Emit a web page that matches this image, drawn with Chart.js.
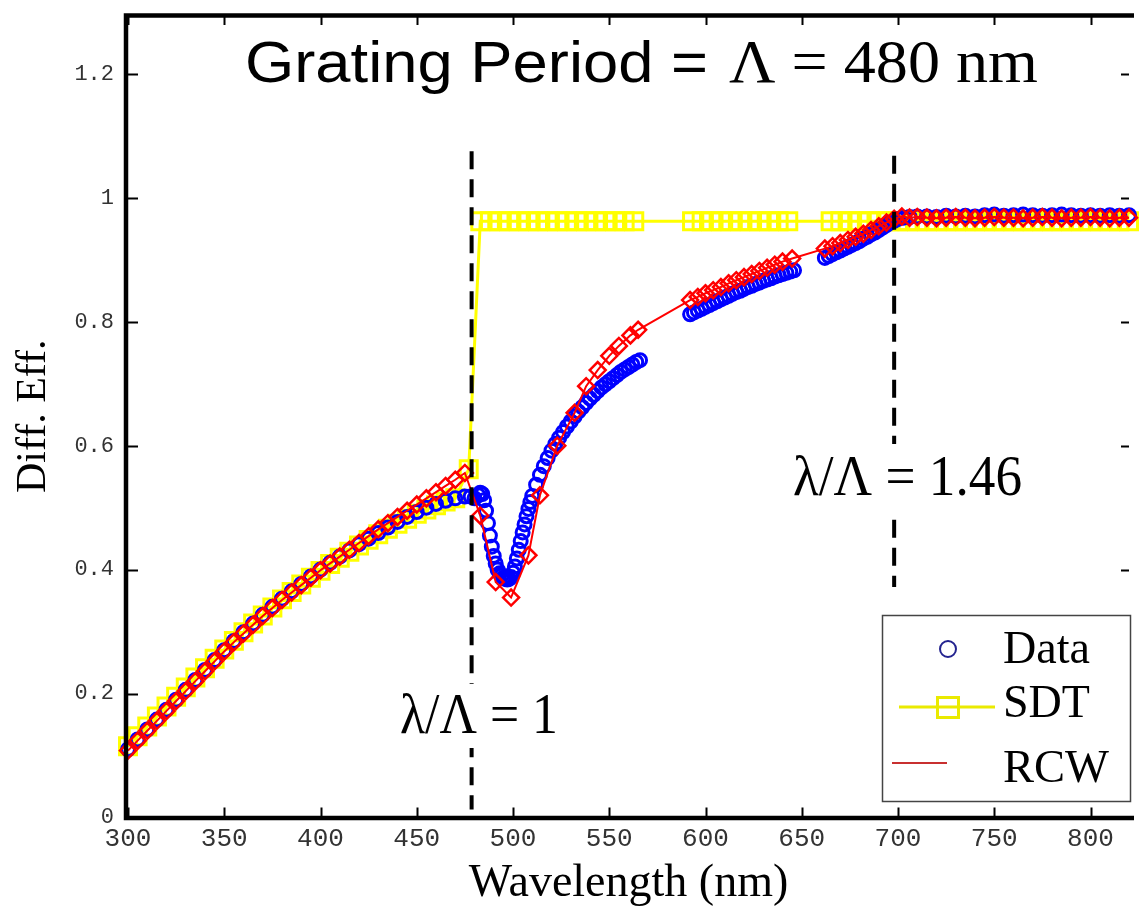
<!DOCTYPE html>
<html>
<head>
<meta charset="utf-8">
<script src="https://cdn.jsdelivr.net/npm/chart.js@4.4.1/dist/chart.umd.min.js"></script>
<style>
  html, body { margin: 0; padding: 0; background: #fff; }
  #wrap { width: 1144px; height: 912px; }
</style>
</head>
<body>
<div id="wrap"><canvas id="c" width="1144" height="912"></canvas></div>
<script>
// ---------------- DATA ----------------
const xTicks = [300, 350, 400, 450, 500, 550, 600, 650, 700, 750, 800];
const xTickLabels = ['300', '350', '400', '450', '500', '550', '600', '650', '700', '750', '800'];
const yTicks = [0, 0.2, 0.4, 0.6, 0.8, 1, 1.2];
const yTickLabels = ['0', '0.2', '0.4', '0.6', '0.8', '1', '1.2'];

// Measured data (blue circles)
const dataWl = [
  300,305,310,315,320,325,330,335,340,345,350,355,360,365,370,375,380,385,390,395,
  400,405,410,415,420,425,430,435,440,445,450,455,460,465,470,475,478,480,482,483,
  484,485,486,487,488,489,490,491,492,493,494,495,496,497,498,499,500,501,502,503,
  504,505,506,507,508,509,510,512,514,516,518,520,522,524,526,528,530,532,534,536,
  538,540,542,544,546,548,550,552,554,556,558,560,562,564,566,
  592,594,596,598,600,602,604,606,608,610,612,614,616,618,620,622,624,626,628,630,
  632,634,636,638,640,642,644,646,
  662,664,666,668,670,672,674,676,678,680,682,684,686,688,690,692,694,696,698,700,
  703,706,710,715,720,725,730,735,740,745,750,755,760,765,770,775,780,785,790,795,
  800,805,810,815,820
];
const dataEff = [
  0.110,0.126,0.142,0.158,0.174,0.190,0.206,0.222,0.238,0.254,0.270,0.285,0.299,0.313,0.327,0.340,0.353,0.365,0.377,0.389,
  0.400,0.411,0.421,0.431,0.441,0.450,0.459,0.468,0.477,0.485,0.493,0.500,0.506,0.511,0.515,0.518,0.518,0.515,0.520,0.524,
  0.522,0.512,0.495,0.475,0.455,0.437,0.422,0.410,0.400,0.394,0.390,0.387,0.385,0.384,0.385,0.388,0.395,0.405,0.418,0.432,
  0.446,0.460,0.473,0.486,0.498,0.509,0.519,0.537,0.553,0.567,0.580,0.592,0.603,0.613,0.622,0.631,0.639,0.647,0.655,0.662,
  0.669,0.676,0.682,0.688,0.694,0.699,0.704,0.709,0.714,0.719,0.723,0.727,0.731,0.735,0.738,
  0.812,0.815,0.818,0.821,0.824,0.827,0.830,0.833,0.836,0.839,0.842,0.845,0.848,0.850,0.853,0.856,0.858,0.861,0.863,0.866,
  0.868,0.870,0.873,0.875,0.877,0.879,0.881,0.883,
  0.903,0.906,0.909,0.912,0.915,0.918,0.921,0.924,0.927,0.930,0.934,0.937,0.941,0.944,0.948,0.952,0.956,0.960,0.963,0.966,
  0.968,0.969,0.970,0.970,0.969,0.971,0.970,0.971,0.970,0.972,0.973,0.971,0.972,0.973,0.972,0.971,0.972,0.973,0.972,0.971,
  0.972,0.971,0.972,0.971,0.972
];

// SDT (yellow squares with line)
const sdtWl = [
  300,305,310,315,320,325,330,335,340,345,350,355,360,365,370,375,380,385,390,395,
  400,405,410,415,420,425,430,435,440,445,450,455,460,465,470,477,
  483,488,493,498,503,508,513,518,523,528,533,538,543,548,553,558,563,
  593,598,603,608,613,618,623,628,633,638,643,
  665,670,675,680,685,690,695,700,705,710,715,720,725,730,735,740,745,750,755,760,
  765,770,775,780,785,790,795,800,805,810,815,820
];
const sdtEff = [
  0.115,0.131,0.147,0.163,0.179,0.195,0.210,0.226,0.241,0.256,0.271,0.285,0.299,0.313,0.326,0.339,0.352,0.364,0.376,0.387,
  0.398,0.409,0.419,0.429,0.439,0.448,0.457,0.466,0.474,0.482,0.490,0.497,0.504,0.510,0.515,0.562,
  0.962,0.962,0.962,0.962,0.962,0.962,0.962,0.962,0.962,0.962,0.962,0.962,0.962,0.962,0.962,0.962,0.962,
  0.962,0.962,0.962,0.962,0.962,0.962,0.962,0.962,0.962,0.962,0.962,
  0.962,0.962,0.962,0.962,0.962,0.962,0.962,0.962,0.962,0.962,0.962,0.962,0.962,0.962,0.962,0.962,0.962,0.962,0.962,0.962,
  0.962,0.962,0.962,0.962,0.962,0.962,0.962,0.962,0.962,0.962,0.962,0.962
];

// RCW (red line with diamonds)
const rcwWl = [
  300,305,310,315,320,325,330,335,340,345,350,355,360,365,370,375,380,385,390,395,
  400,405,410,415,420,425,430,435,440,445,450,455,460,465,470,475,
  483,491,499,508,514,523,532,538,544,550,555,561,565,
  592,596,600,604,608,612,616,620,624,628,632,636,640,645,
  662,666,670,674,678,682,686,690,694,698,702,
  706,710,715,720,725,730,735,740,745,750,755,760,765,770,775,780,785,790,795,800,805,810,815,820
];
const rcwEff = [
  0.108,0.124,0.140,0.156,0.172,0.188,0.204,0.220,0.236,0.252,0.268,0.283,0.297,0.311,0.325,0.338,0.351,0.363,0.375,0.387,
  0.399,0.410,0.421,0.432,0.443,0.454,0.465,0.475,0.485,0.495,0.505,0.515,0.525,0.535,0.545,0.556,
  0.487,0.380,0.355,0.423,0.520,0.600,0.653,0.696,0.722,0.745,0.761,0.778,0.787,
  0.835,0.840,0.846,0.851,0.856,0.862,0.867,0.872,0.877,0.882,0.887,0.892,0.897,0.902,
  0.918,0.922,0.927,0.932,0.937,0.942,0.948,0.954,0.960,0.966,0.970,
  0.968,0.969,0.968,0.967,0.968,0.969,0.968,0.967,0.968,0.969,0.968,0.968,0.967,0.968,0.969,0.968,0.967,0.968,0.968,0.969,0.968,0.967,0.968,0.968
];

// Vertical dashed marker lines (lambda/Lambda = 1 and 1.46)
const marker1Wl = [478.5, 478.5];
const marker1Eff = [1.075, 0.013];
const marker2Wl = [698, 698];
const marker2Eff = [1.068, 0.372];

const seriesNames = ['Data', 'SDT', 'RCW'];

// ---------------- HELPERS ----------------
const pts = (xs, ys) => xs.map((x, i) => ({ x: x, y: ys[i] }));

function drawFit(ctx, text, font, x, yBase, w) {
  ctx.save();
  ctx.font = font;
  ctx.textAlign = 'left';
  ctx.textBaseline = 'alphabetic';
  const m = ctx.measureText(text).width;
  const s = w ? w / m : 1;
  ctx.translate(x, yBase);
  ctx.scale(s, 1);
  ctx.fillText(text, 0, 0);
  ctx.restore();
}

const overlay = {
  id: 'overlay',
  afterDatasetsDraw(chart) {
    const { ctx, chartArea: a, scales } = chart;
    const xs = scales.x, ys = scales.y;
    ctx.save();
    // inward tick marks
    ctx.strokeStyle = '#000';
    ctx.lineWidth = 2;
    ctx.beginPath();
    xTicks.forEach(v => {
      const px = Math.round(xs.getPixelForValue(v)) + 0.5;
      ctx.moveTo(px, a.bottom); ctx.lineTo(px, a.bottom - 10);
      ctx.moveTo(px, a.top); ctx.lineTo(px, a.top + 10);
    });
    yTicks.forEach(v => {
      const py = Math.round(ys.getPixelForValue(v)) + 0.5;
      ctx.moveTo(a.left, py); ctx.lineTo(a.left + 10, py);
      ctx.moveTo(a.right, py); ctx.lineTo(a.right - 8, py);
    });
    ctx.stroke();
    // frame (left, bottom, top)
    ctx.lineWidth = 4.5;
    ctx.beginPath();
    ctx.moveTo(a.right + 5, a.top + 0.5);
    ctx.lineTo(a.left - 2, a.top + 0.5);
    ctx.lineTo(a.left - 2, a.bottom + 0.5);
    ctx.lineTo(a.right + 5, a.bottom + 0.5);
    ctx.stroke();

    // annotation labels with white background
    ctx.fillStyle = '#fff';
    ctx.fillRect(395, 684, 172, 64);
    ctx.fillRect(788, 444, 240, 70);
    ctx.fillStyle = '#000';
    drawFit(ctx, 'λ/Λ = 1', '58px "Liberation Serif"', 400, 733, 158);
    drawFit(ctx, 'λ/Λ = 1.46', '58px "Liberation Serif"', 793, 495, 229);

    // title
    drawFit(ctx, 'Grating Period =', '58px "Liberation Sans"', 245, 82, 463);
    drawFit(ctx, 'Λ = 480 nm', '62px "Liberation Serif"', 729, 82, 309);

    // legend
    ctx.fillStyle = '#fff';
    ctx.fillRect(882, 615, 248, 186);
    ctx.strokeStyle = '#444';
    ctx.lineWidth = 1.5;
    ctx.strokeRect(882.5, 615.5, 248, 186);
    // Data
    ctx.strokeStyle = '#23238f';
    ctx.lineWidth = 2;
    ctx.beginPath(); ctx.arc(948, 649, 8, 0, Math.PI * 2); ctx.stroke();
    // SDT
    ctx.strokeStyle = '#eaea00';
    ctx.lineWidth = 3;
    ctx.beginPath(); ctx.moveTo(899, 707); ctx.lineTo(995, 707); ctx.stroke();
    ctx.strokeRect(937.5, 697.5, 21, 20);
    // RCW
    ctx.strokeStyle = '#c83030';
    ctx.lineWidth = 2;
    ctx.beginPath(); ctx.moveTo(892, 763); ctx.lineTo(947, 763); ctx.stroke();
    ctx.fillStyle = '#000';
    drawFit(ctx, seriesNames[0], '46px "Liberation Serif"', 1003, 663, 87);
    drawFit(ctx, seriesNames[1], '46px "Liberation Serif"', 1003, 717, 87);
    drawFit(ctx, seriesNames[2], '46px "Liberation Serif"', 1003, 782, 106);
    ctx.restore();
  }
};

// ---------------- CHART ----------------
new Chart(document.getElementById('c'), {
  type: 'scatter',
  data: {
    datasets: [
      {
        label: 'marker1', data: pts(marker1Wl, marker1Eff), showLine: true,
        borderColor: '#000', borderWidth: 4, borderDash: [18, 10], pointRadius: 0, order: 0
      },
      {
        label: 'marker2', data: pts(marker2Wl, marker2Eff), showLine: true,
        borderColor: '#000', borderWidth: 4, borderDash: [18, 10], pointRadius: 0, order: 0
      },
      {
        label: seriesNames[2], data: pts(rcwWl, rcwEff), showLine: true,
        borderColor: '#ff0000', borderWidth: 2, pointStyle: 'rectRot', pointRadius: 8,
        pointBorderColor: '#ff0000', pointBackgroundColor: 'rgba(0,0,0,0)', pointBorderWidth: 2.5,
        clip: false, order: 1
      },
      {
        label: seriesNames[0], data: pts(dataWl, dataEff), showLine: false,
        pointStyle: 'circle', pointRadius: 6.5, pointBorderColor: '#0000ff',
        pointBackgroundColor: 'rgba(0,0,0,0)', pointBorderWidth: 3, borderColor: '#0000ff',
        clip: false, order: 2
      },
      {
        label: seriesNames[1], data: pts(sdtWl, sdtEff), showLine: true,
        borderColor: '#ffff00', borderWidth: 3, pointStyle: 'rect', pointRadius: 12,
        pointBorderColor: '#ffff00', pointBackgroundColor: 'rgba(0,0,0,0)', pointBorderWidth: 3,
        clip: false, order: 3
      }
    ]
  },
  options: {
    responsive: false,
    animation: false,
    layout: { padding: { left: 0, right: 0, top: 12, bottom: 0 } },
    plugins: { legend: { display: false }, tooltip: { enabled: false } },
    scales: {
      x: {
        type: 'linear', min: 300, max: 820,
        afterBuildTicks: s => { s.ticks = xTicks.map(v => ({ value: v })); },
        afterFit: s => { s.height = 94.5; s.paddingLeft = 0; s.paddingRight = 0; },
        ticks: {
          callback: (v) => xTickLabels[xTicks.indexOf(v)] ?? '',
          font: { family: 'Liberation Mono', size: 26 }, color: '#333',
          padding: 6, maxRotation: 0, autoSkip: false
        },
        grid: { display: false, drawTicks: false },
        border: { display: false },
        title: {
          display: true, text: 'Wavelength (nm)', color: '#000',
          font: { family: 'Liberation Serif', size: 46 }, padding: { top: 0, bottom: 0 }
        }
      },
      y: {
        type: 'linear', min: 0, max: 1.295,
        afterBuildTicks: s => { s.ticks = yTicks.map(v => ({ value: v })); },
        afterFit: s => { s.width = 128; s.paddingTop = 0; s.paddingBottom = 0; },
        ticks: {
          callback: (v) => yTickLabels[yTicks.indexOf(v)] ?? '',
          font: { family: 'Liberation Mono', size: 22 }, color: '#333',
          padding: 14, autoSkip: false
        },
        grid: { display: false, drawTicks: false },
        border: { display: false },
        title: {
          display: true, text: 'Diff. Eff.', color: '#000',
          font: { family: 'Liberation Serif', size: 42 }, padding: { top: 9, bottom: 0 }
        }
      }
    }
  },
  plugins: [overlay]
});
</script>
</body>
</html>
